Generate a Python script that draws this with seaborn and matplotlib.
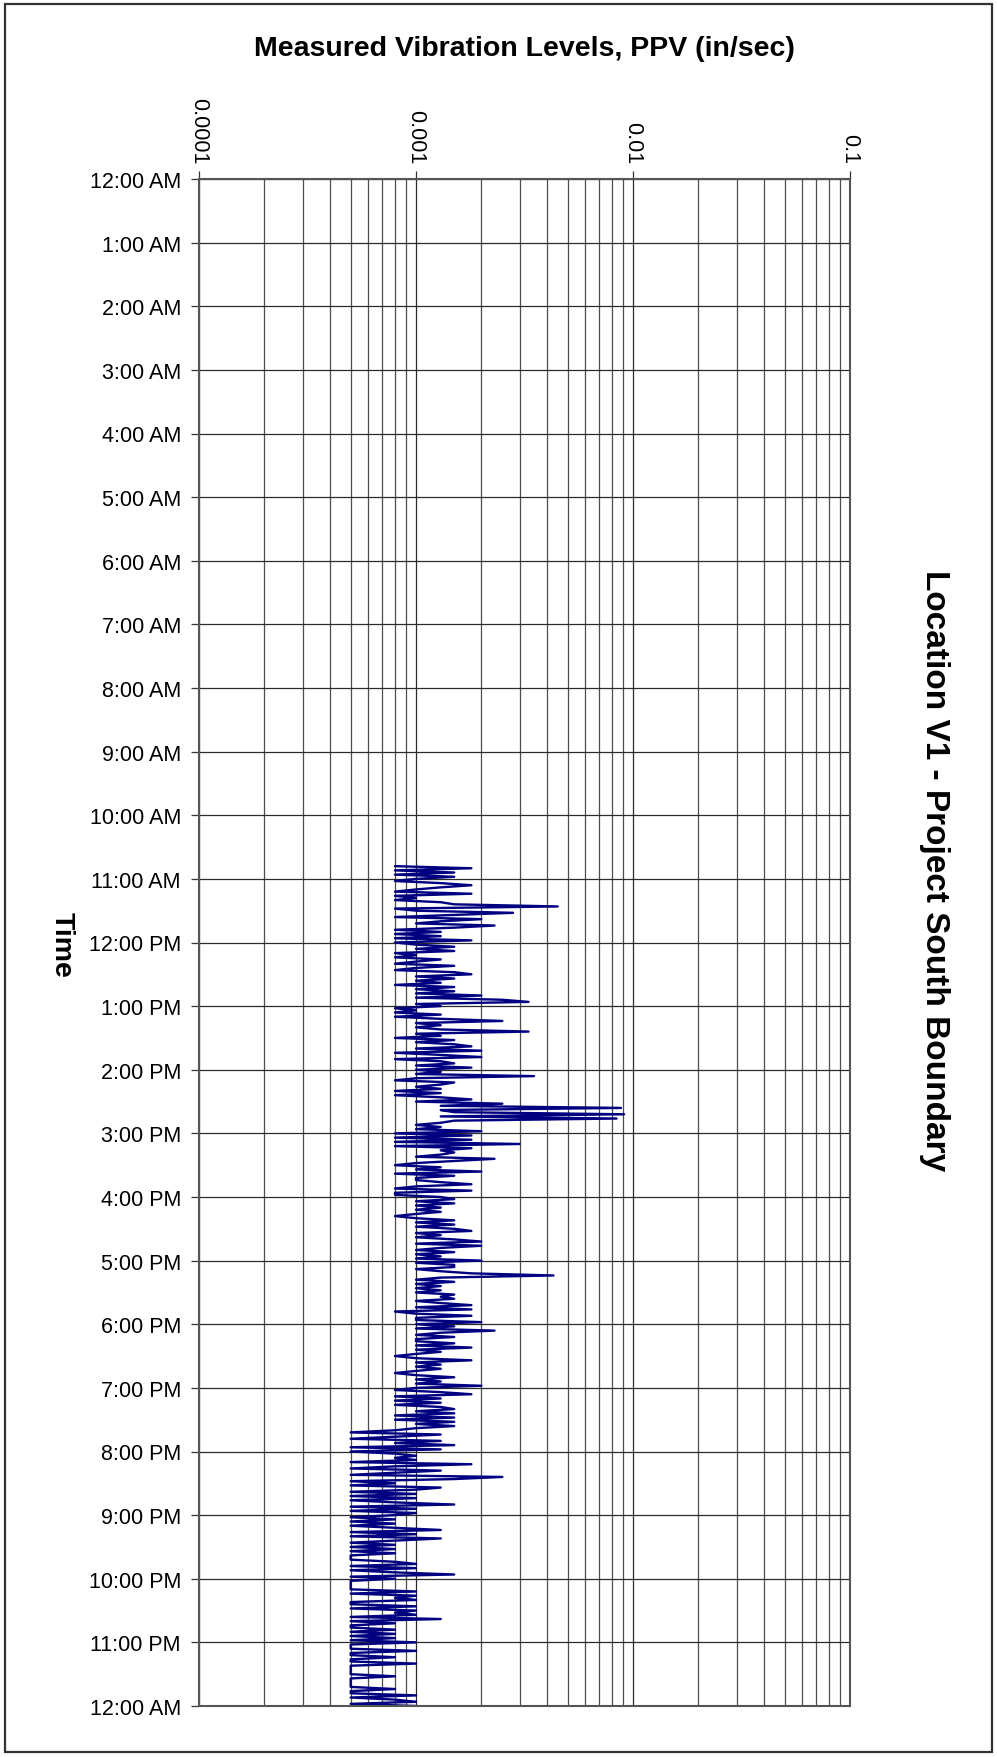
import matplotlib
matplotlib.use("Agg")
import matplotlib.pyplot as plt
from matplotlib.patches import Rectangle
import numpy as np
import pandas as pd
import seaborn as sns

# --- data -----------------------------------------------------------------
# PPV readings (in/sec), one every two minutes starting at 10:48 AM
start_minute = 648
step_minutes = 2
ppv = [
    0.0008, 0.0018, 0.0008, 0.0015, 0.0008, 0.0015, 0.0010, 0.0008, 0.0013, 0.0018,
    0.0013, 0.0010, 0.0008, 0.0018, 0.0008, 0.0010, 0.0008, 0.0013, 0.0015, 0.0045,
    0.0008, 0.0010, 0.0028, 0.0015, 0.0008, 0.0020, 0.0013, 0.0010, 0.0023, 0.0015,
    0.0008, 0.0013, 0.0008, 0.0013, 0.0008, 0.0018, 0.0008, 0.0010, 0.0015, 0.0010,
    0.0015, 0.0008, 0.0010, 0.0008, 0.0013, 0.0010, 0.0008, 0.0015, 0.0010, 0.0008,
    0.0015, 0.0018, 0.0010, 0.0015, 0.0010, 0.0013, 0.0008, 0.0015, 0.0010, 0.0015,
    0.0010, 0.0020, 0.0010, 0.0025, 0.0033, 0.0010, 0.0013, 0.0008, 0.0010, 0.0008,
    0.0013, 0.0008, 0.0013, 0.0025, 0.0010, 0.0013, 0.0010, 0.0013, 0.0033, 0.0010,
    0.0013, 0.0008, 0.0015, 0.0010, 0.0015, 0.0018, 0.0010, 0.0020, 0.0008, 0.0013,
    0.0020, 0.0008, 0.0013, 0.0015, 0.0010, 0.0018, 0.0010, 0.0013, 0.0010, 0.0035,
    0.0010, 0.0008, 0.0015, 0.0013, 0.0010, 0.0013, 0.0008, 0.0013, 0.0008, 0.0013,
    0.0018, 0.0010, 0.0025, 0.0013, 0.0088, 0.0013, 0.0015, 0.0091, 0.0013, 0.0084,
    0.0015, 0.0013, 0.0010, 0.0013, 0.0010, 0.0020, 0.0008, 0.0018, 0.0008, 0.0018,
    0.0008, 0.0030, 0.0008, 0.0018, 0.0013, 0.0015, 0.0013, 0.0010, 0.0023, 0.0015,
    0.0010, 0.0008, 0.0013, 0.0010, 0.0020, 0.0008, 0.0015, 0.0010, 0.0010, 0.0013,
    0.0018, 0.0010, 0.0008, 0.0018, 0.0008, 0.0008, 0.0013, 0.0015, 0.0010, 0.0015,
    0.0010, 0.0013, 0.0010, 0.0013, 0.0010, 0.0008, 0.0010, 0.0015, 0.0010, 0.0015,
    0.0010, 0.0015, 0.0018, 0.0010, 0.0013, 0.0010, 0.0015, 0.0020, 0.0010, 0.0020,
    0.0013, 0.0010, 0.0015, 0.0010, 0.0013, 0.0010, 0.0020, 0.0010, 0.0015, 0.0015,
    0.0010, 0.0013, 0.0018, 0.0043, 0.0013, 0.0010, 0.0015, 0.0010, 0.0013, 0.0010,
    0.0013, 0.0010, 0.0015, 0.0013, 0.0015, 0.0010, 0.0013, 0.0018, 0.0010, 0.0018,
    0.0008, 0.0010, 0.0018, 0.0010, 0.0010, 0.0020, 0.0010, 0.0015, 0.0010, 0.0023,
    0.0013, 0.0010, 0.0015, 0.0010, 0.0010, 0.0015, 0.0010, 0.0018, 0.0010, 0.0013,
    0.0010, 0.0008, 0.0010, 0.0018, 0.0010, 0.0013, 0.0010, 0.0013, 0.0010, 0.0008,
    0.0010, 0.0015, 0.0010, 0.0013, 0.0010, 0.0020, 0.0010, 0.0008, 0.0013, 0.0018,
    0.0008, 0.0013, 0.0008, 0.0013, 0.0008, 0.0013, 0.0015, 0.0010, 0.0015, 0.0008,
    0.0015, 0.0008, 0.0015, 0.0010, 0.0015, 0.0010, 0.0008, 0.0005, 0.0013, 0.0008,
    0.0005, 0.0013, 0.0008, 0.0015, 0.0005, 0.0013, 0.0005, 0.0008, 0.0010, 0.0008,
    0.0010, 0.0005, 0.0018, 0.0008, 0.0005, 0.0013, 0.0008, 0.0005, 0.0025, 0.0015,
    0.0005, 0.0008, 0.0005, 0.0013, 0.0010, 0.0005, 0.0010, 0.0005, 0.0010, 0.0005,
    0.0008, 0.0015, 0.0005, 0.0010, 0.0005, 0.0010, 0.0008, 0.0005, 0.0008, 0.0005,
    0.0008, 0.0005, 0.0008, 0.0013, 0.0005, 0.0010, 0.0005, 0.0013, 0.0008, 0.0005,
    0.0008, 0.0005, 0.0008, 0.0005, 0.0008, 0.0005, 0.0005, 0.0005, 0.0008, 0.0010,
    0.0005, 0.0010, 0.0005, 0.0008, 0.0015, 0.0005, 0.0008, 0.0005, 0.0005, 0.0005,
    0.0005, 0.0005, 0.0010, 0.0005, 0.0010, 0.0008, 0.0010, 0.0005, 0.0005, 0.0010,
    0.0005, 0.0010, 0.0008, 0.0010, 0.0005, 0.0013, 0.0005, 0.0008, 0.0005, 0.0005,
    0.0008, 0.0005, 0.0008, 0.0005, 0.0008, 0.0005, 0.0010, 0.0005, 0.0005, 0.0005,
    0.0010, 0.0005, 0.0005, 0.0008, 0.0005, 0.0005, 0.0010, 0.0005, 0.0005, 0.0005,
    0.0005, 0.0005, 0.0008, 0.0005, 0.0005, 0.0005, 0.0005, 0.0005, 0.0008, 0.0005,
    0.0005, 0.0010, 0.0005, 0.0008, 0.0010, 0.0005, 0.0010,
]

ppv_ticks = [0.0001, 0.001, 0.01, 0.1]
ppv_tick_labels = ["0.0001", "0.001", "0.01", "0.1"]
hour_ticks = list(range(25))
hour_labels = [
    "12:00 AM", "1:00 AM", "2:00 AM", "3:00 AM", "4:00 AM", "5:00 AM",
    "6:00 AM", "7:00 AM", "8:00 AM", "9:00 AM", "10:00 AM", "11:00 AM",
    "12:00 PM", "1:00 PM", "2:00 PM", "3:00 PM", "4:00 PM", "5:00 PM",
    "6:00 PM", "7:00 PM", "8:00 PM", "9:00 PM", "10:00 PM", "11:00 PM",
    "12:00 AM",
]

df = pd.DataFrame({"ppv": ppv})
df["hour"] = (start_minute + step_minutes * np.arange(len(df))) / 60.0

# --- style ----------------------------------------------------------------
sns.set_style("white")
plt.rcParams["font.family"] = ["Liberation Sans", "DejaVu Sans"]
plt.rcParams["text.color"] = "black"
plt.rcParams["xtick.color"] = "black"
plt.rcParams["ytick.color"] = "black"
plt.rcParams["axes.labelcolor"] = "black"

W, H = 997, 1758
fig = plt.figure(figsize=(W / 100, H / 100), dpi=100, facecolor="white")
left, right, top, bottom = 199, 850, 180, 1707
ax = fig.add_axes([left / W, 1 - bottom / H, (right - left) / W, (bottom - top) / H])

sns.lineplot(data=df, x="ppv", y="hour", sort=False, estimator=None,
             color="#000080", linewidth=1.7, ax=ax)

ax.set_xscale("log")
ax.set_xlim(1e-4, 1e-1)
ax.set_ylim(24, 0)

# value axis on top, labels turned to read downward
ax.xaxis.tick_top()
ax.set_xticks(ppv_ticks)
ax.set_xticklabels(ppv_tick_labels, rotation=-90, va="bottom", ha="center",
                   fontsize=15.5, color="black")
ax.tick_params(axis="x", which="major", direction="out", length=5.5, width=0.9,
               color="#333333", pad=6, top=True, bottom=False)
ax.tick_params(axis="x", which="minor", length=0, top=False, bottom=False)

ax.set_yticks(hour_ticks)
ax.set_yticklabels(hour_labels, fontsize=15.5, color="black")
ax.tick_params(axis="y", which="major", direction="out", length=6, width=0.9,
               color="#333333", pad=7, left=True)

ax.grid(which="major", axis="both", color="#2b2b2b", linewidth=0.9)
ax.grid(which="minor", axis="x", color="#4d4d4d", linewidth=0.9)
ax.set_axisbelow(True)

for side in ("left", "right", "top", "bottom"):
    ax.spines[side].set_visible(True)
    ax.spines[side].set_color("#555555")
    ax.spines[side].set_linewidth(1.5)

ax.set_xlabel("")
ax.set_ylabel("")

fig.text(524 / W, 1 - 49 / H, "Measured Vibration Levels, PPV (in/sec)",
         ha="center", va="center", fontsize=20.5, fontweight="bold", color="black")
fig.text(62 / W, 1 - 945 / H, "Time", rotation=-90, ha="center", va="center",
         fontsize=20.5, fontweight="bold", color="black")
fig.text(934 / W, 1 - 871 / H, "Location V1 - Project South Boundary",
         rotation=-90, ha="center", va="center", fontsize=24, fontweight="bold",
         color="black")

# frame around the whole chart
fig.patches.append(Rectangle((5 / W, 5 / H), (992 - 5) / W, (1753 - 5) / H,
                             transform=fig.transFigure, fill=False,
                             edgecolor="#333333", linewidth=1.6))

fig.savefig("out.png", dpi=100, facecolor="white")
